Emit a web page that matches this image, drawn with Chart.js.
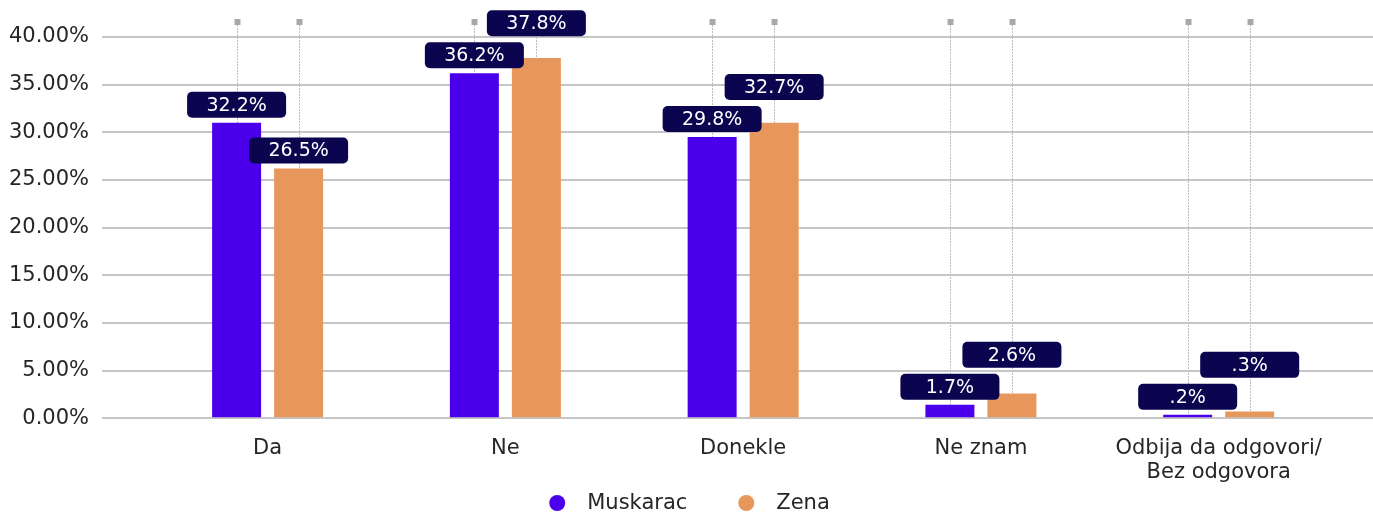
<!doctype html>
<html lang="en">
  <head>
    <meta charset="utf-8">
    <style>
      * {
        margin: 0;
        padding: 0;
      }
      body {
        background: #fff;
      }
      .chartBox {
        width: 1373px;
        height: 513px;
      }
    </style>
  </head>
  <body>
    <div class="chartBox">
      <canvas id="myChart"></canvas>
    </div>

    <script src="https://cdn.jsdelivr.net/npm/chart.js/dist/chart.umd.min.js"></script>
    <script>
// data
const categories = ['Da', 'Ne', 'Donekle', 'Ne znam', ['Odbija da odgovori/', 'Bez odgovora']];
const seriesNames = ['Muskarac', 'Zena'];
const muskarac = [31.0, 36.2, 29.5, 1.4, 0.35];
const zena = [26.2, 37.8, 31.0, 2.6, 0.7];
const muskaracLabels = ['32.2%', '36.2%', '29.8%', '1.7%', '.2%'];
const zenaLabels = ['26.5%', '37.8%', '32.7%', '2.6%', '.3%'];

const colors = ['#4b00ec', '#e8975c'];
const textColor = '#262626';
const fontFamily = "'DejaVu Sans', sans-serif";

Chart.defaults.font.family = fontFamily;
Chart.defaults.font.size = 20;
Chart.defaults.color = textColor;

const data = {
  datasets: [{
    label: seriesNames[0],
    data: muskarac.map((v, i) => ({x: i, y: v})),
    backgroundColor: colors[0]
  }, {
    label: seriesNames[1],
    data: zena.map((v, i) => ({x: i, y: v})),
    backgroundColor: colors[1]
  }]
};

// dotted leader lines with small squares on top
const leaderLines = {
  id: 'leaderLines',
  beforeDatasetsDraw(chart) {
    const {ctx, scales: {y}} = chart;
    ctx.save();
    chart.data.datasets.forEach((ds, di) => {
      chart.getDatasetMeta(di).data.forEach(bar => {
        const bx = Math.round(bar.x);
        ctx.strokeStyle = '#bdbdbd';
        ctx.lineWidth = 1;
        ctx.setLineDash([2, 1]);
        ctx.beginPath();
        ctx.moveTo(bx + 0.5, 25);
        ctx.lineTo(bx + 0.5, y.getPixelForValue(0));
        ctx.stroke();
        ctx.setLineDash([]);
        ctx.fillStyle = '#a9a9a9';
        ctx.fillRect(bx - 2.5, 19, 6, 6);
      });
    });
    ctx.restore();
  }
};

// value label boxes
const valueBoxes = {
  id: 'valueBoxes',
  afterDatasetsDraw(chart) {
    const {ctx} = chart;
    const w = 99, h = 26, gap = 5;
    const m = chart.getDatasetMeta(0).data;
    const z = chart.getDatasetMeta(1).data;
    ctx.save();
    ctx.font = '19px ' + fontFamily;
    ctx.textAlign = 'center';
    ctx.textBaseline = 'middle';
    const drawBox = (cx, bottom, text) => {
      ctx.fillStyle = '#0b0550';
      ctx.beginPath();
      ctx.roundRect(cx - w / 2, bottom - h, w, h, 5);
      ctx.fill();
      ctx.fillStyle = '#ffffff';
      ctx.fillText(text, cx, bottom - h / 2 + 1);
    };
    m.forEach((bar, i) => {
      const pBottom = bar.y - gap;
      const pTop = pBottom - h;
      let zBottom = z[i].y - gap;
      if (zBottom > pTop && zBottom - h < pBottom) {
        zBottom = pTop - 6;
      }
      drawBox(bar.x, pBottom, muskaracLabels[i]);
      drawBox(z[i].x, zBottom, zenaLabels[i]);
    });
    ctx.restore();
  }
};

// legend at the bottom
const bottomLegend = {
  id: 'bottomLegend',
  afterDraw(chart) {
    const {ctx, width} = chart;
    ctx.save();
    ctx.font = '21px ' + fontFamily;
    ctx.textBaseline = 'middle';
    const r = 8, textGap = 30, itemGap = 59;
    const items = chart.data.datasets.map((ds, i) => ({
      label: ds.label,
      color: colors[i],
      tw: ctx.measureText(ds.label).width
    }));
    let total = 0;
    items.forEach((it, i) => {
      total += r + textGap + it.tw + (i < items.length - 1 ? itemGap : 0);
    });
    let x = width / 2 - total / 2 + r + 7;
    const yy = 503;
    items.forEach(it => {
      ctx.fillStyle = it.color;
      ctx.beginPath();
      ctx.arc(x, yy, r, 0, Math.PI * 2);
      ctx.fill();
      ctx.fillStyle = textColor;
      ctx.fillText(it.label, x + textGap, yy + 1);
      x += textGap + it.tw + itemGap;
    });
    ctx.restore();
  }
};

const config = {
  type: 'bar',
  data,
  options: {
    responsive: true,
    maintainAspectRatio: false,
    animation: false,
    categoryPercentage: 0.5216,
    barPercentage: 0.79,
    layout: {
      padding: {top: 37, bottom: 10, left: 0, right: 0}
    },
    scales: {
      x: {
        type: 'linear',
        min: -0.6965,
        max: 4.649,
        offset: false,
        grid: {display: false, drawTicks: false},
        border: {display: false},
        ticks: {
          stepSize: 1,
          includeBounds: false,
          padding: 18.25,
          autoSkip: false,
          maxRotation: 0,
          font: {size: 21, lineHeight: 1.15},
          callback: (v) => Number.isInteger(v) ? categories[v] : ''
        }
      },
      y: {
        min: 0,
        max: 40,
        grid: {color: '#c6c6c6', lineWidth: 2, drawTicks: false},
        border: {display: false},
        ticks: {
          stepSize: 5,
          padding: 13,
          font: {size: 21},
          callback: (v) => v.toFixed(2) + '%'
        },
        afterFit(scale) {
          scale.width = 102;
        }
      }
    },
    plugins: {
      legend: {display: false},
      tooltip: {enabled: false}
    }
  },
  plugins: [leaderLines, valueBoxes, bottomLegend]
};

const myChart = new Chart(document.getElementById('myChart'), config);
    </script>
  </body>
</html>
